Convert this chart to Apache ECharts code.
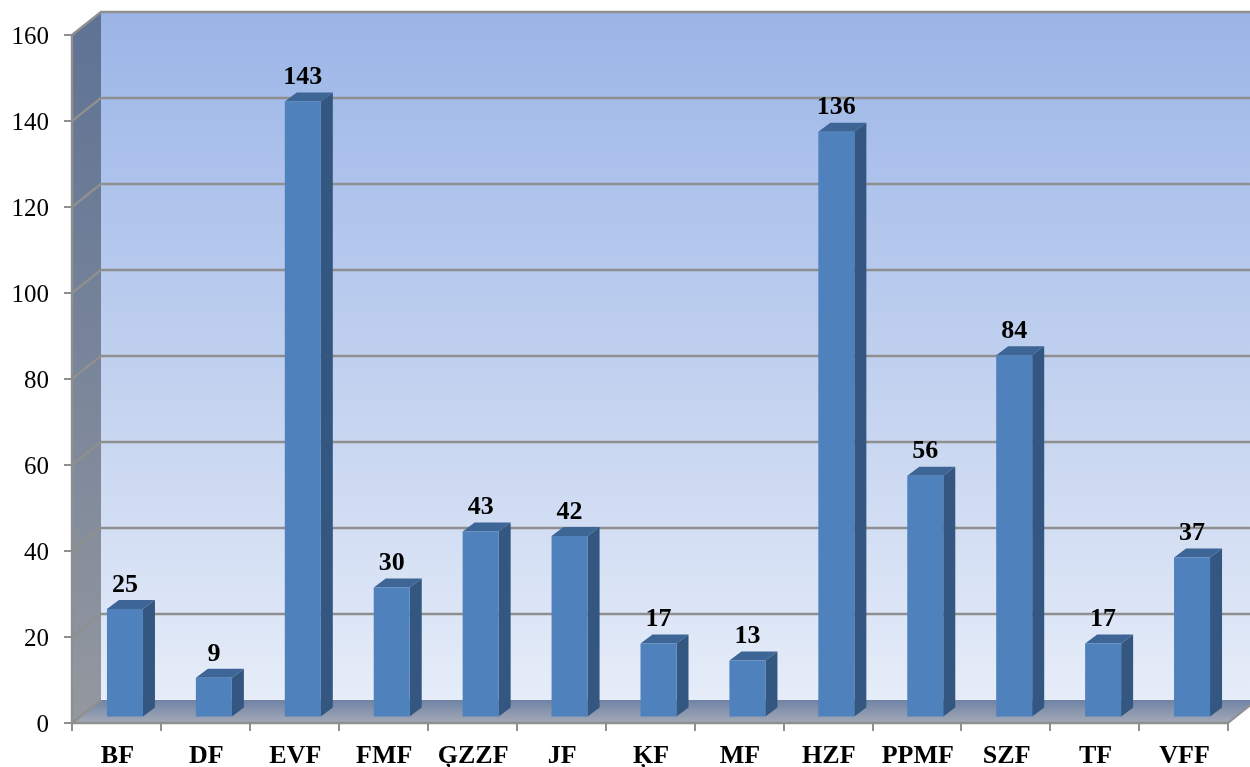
<!DOCTYPE html>
<html><head><meta charset="utf-8">
<style>html,body{margin:0;padding:0;background:#fff}#c{width:1250px;height:767px}</style>
<script src="https://cdn.jsdelivr.net/npm/echarts@6/dist/echarts.min.js"></script>
</head><body><div id="c"></div>
<script>
const categories = ['BF','DF','EVF','FMF','ĢZZF','JF','ĶF','MF','HZF','PPMF','SZF','TF','VFF'];
const values = [25,9,143,30,43,42,17,13,136,56,84,17,37];
const yTicks = [0,20,40,60,80,100,120,140,160];

const DX = 29, DY = -23;         // wall depth
const BX = 8.5, BY = -6.5;       // bar plane offset
const bDX = 12, bDY = -9;        // bar depth
const LINE = '#8f8f8f';
const G = echarts.graphic;
const vgrad = (stops) => new G.LinearGradient(0,0,0,1,stops.map(s=>({offset:s[0],color:s[1]})));

const chart = echarts.init(document.getElementById('c'), null, {renderer:'canvas'});

function renderWalls(params, api){
  const c = params.coordSys, L=c.x, T=c.y, R=c.x+c.width, B=c.y+c.height;
  return {type:'group', children:[
    {type:'polygon', shape:{points:[[L+DX,T+DY],[R+DX,T+DY],[R+DX,B+DY],[L+DX,B+DY]]},
     style:{fill:vgrad([[0,'#9ab5e6'],[0.25,'#aec3ec'],[0.55,'#c3d2ef'],[1,'#e6edf9'] ])}},
    {type:'polygon', shape:{points:[[L,T],[L+DX,T+DY],[L+DX,B+DY],[L,B]]},
     style:{fill:vgrad([[0,'#5e7294'],[1,'#94989f']])}},
    {type:'polygon', shape:{points:[[L,B],[L+DX,B+DY],[R+DX,B+DY],[R,B]]},
     style:{fill:vgrad([[0,'#6f83a5'],[1,'#a4a9b6']])}},
    {type:'polyline', shape:{points:[[R,B],[R+DX,B+DY]]}, style:{stroke:LINE,lineWidth:2,fill:null}}
  ]};
}
function renderGrid(params, api){
  const c = params.coordSys, L=c.x, R=c.x+c.width;
  const y = api.coord([0, api.value(0)])[1];
  const pts = api.value(0) === 0
    ? [[L,y],[L+DX,y+DY]]
    : [[L,y],[L+DX,y+DY],[R+DX,y+DY]];
  return {type:'polyline', shape:{points:pts}, style:{stroke:LINE,lineWidth:2.4,fill:null}};
}
function renderBar(params, api){
  const p = api.coord([api.value(0), api.value(1)]);
  const base = api.coord([api.value(0), 0]);
  const w = api.size([1,0])[0]*0.405;
  const x0 = p[0]+BX-w/2, x1 = x0+w, t = p[1]+BY, b = base[1]+BY;
  return {type:'group', children:[
    {type:'polygon', shape:{points:[[x1,t],[x1+bDX,t+bDY],[x1+bDX,b+bDY],[x1,b]]}, style:{fill:'#335780'}},
    {type:'polygon', shape:{points:[[x0,t],[x0+bDX,t+bDY],[x1+bDX,t+bDY],[x1,t]]}, style:{fill:'#3d6596'}},
    {type:'rect', shape:{x:x0,y:t,width:w,height:b-t}, style:{fill:'#4f81bd'}},
    {type:'text', style:{text:String(api.value(1)), x:(x0+x1)/2, y:t-11, align:'center', verticalAlign:'bottom',
      font:'bold 26px "Liberation Serif"', fill:'#000'}}
  ]};
}

chart.setOption({
  animation:false,
  grid:{left:72,right:22,top:35,bottom:44,containLabel:false,outerBoundsMode:'none'},
  xAxis:{type:'category',data:categories,z:5,
    axisLine:{lineStyle:{color:LINE,width:2.4}},
    axisTick:{show:true,alignWithLabel:false,length:8,lineStyle:{color:LINE,width:2}},
    axisLabel:{interval:0,margin:20,color:'#000',fontFamily:'Liberation Serif',fontWeight:'bold',fontSize:26,padding:[0,0,0,2]},
    splitLine:{show:false}},
  yAxis:{type:'value',min:0,max:160,interval:20,z:5,
    axisLine:{show:true,lineStyle:{color:LINE,width:2.4}},
    axisTick:{show:true,length:8,lineStyle:{color:LINE,width:2}},
    axisLabel:{margin:23,color:'#000',fontFamily:'Liberation Serif',fontSize:25,
      customValues:yTicks,formatter:'{a|{value}}',
      rich:{a:{color:'#000',fontFamily:'Liberation Serif',fontSize:25,padding:[4,0,0,0]}}},
    splitLine:{show:false}},
  series:[
    {type:'custom',z:1,silent:true,clip:false,data:[0],renderItem:renderWalls},
    {type:'custom',z:2,silent:true,clip:false,data:yTicks.map(v=>[v]),encode:{y:0},renderItem:renderGrid},
    {type:'custom',z:3,silent:true,clip:false,data:values.map((v,i)=>[i,v]),encode:{x:0,y:1},renderItem:renderBar}
  ]
});
</script></body></html>
